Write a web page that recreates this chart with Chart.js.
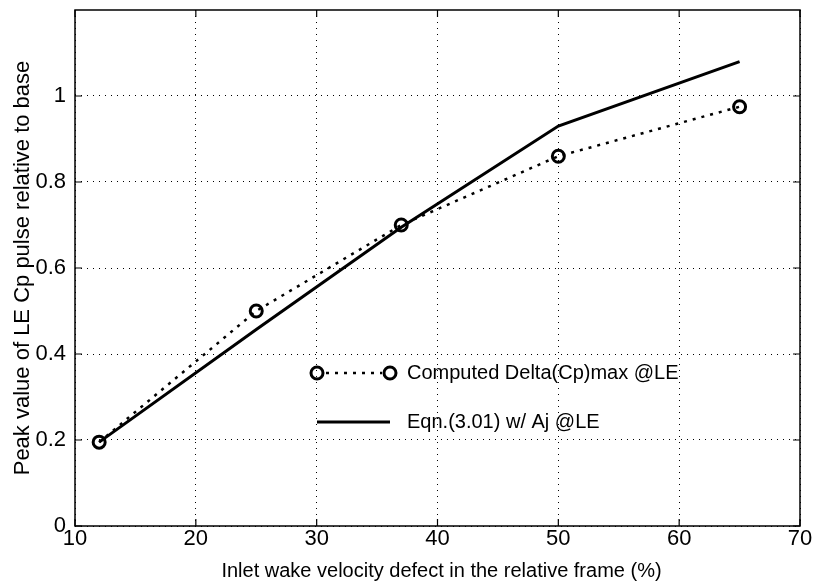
<!DOCTYPE html>
<html>
<head>
<meta charset="utf-8">
<script src="https://cdn.jsdelivr.net/npm/chart.js@4"></script>
<style>
  html, body { margin: 0; padding: 0; background: #fff; }
</style>
</head>
<body>
<canvas id="myChart" width="817" height="583"></canvas>
<script>
// inlet wake velocity defect (%)
const defect = [12, 25, 37, 50, 65];
// peak LE Cp pulse relative to base
const computedPeak = [0.195, 0.5, 0.7, 0.86, 0.975];
const eqnPeak = [0.195, 0.457, 0.695, 0.93, 1.08];
const xTicks = [10, 20, 30, 40, 50, 60, 70];
const yTicks = [0, 0.2, 0.4, 0.6, 0.8, 1];
const legendNames = ["Computed Delta(Cp)max @LE", "Eqn.(3.01) w/ Aj @LE"];
const xTitle = "Inlet wake velocity defect in the relative frame (%)";
const yTitle = "Peak value of LE Cp pulse relative to base";

const FONT = "'Liberation Sans', Arial, Helvetica, sans-serif";

// box round the plot, inward ticks, titles and legend
const framePlugin = {
  id: "frame",
  afterDraw: (chart) => {
    const ctx = chart.ctx;
    const a = chart.chartArea;
    const xs = chart.scales.x;
    const ys = chart.scales.y;
    ctx.save();
    ctx.strokeStyle = "#000";
    ctx.lineWidth = 1.5;
    ctx.strokeRect(a.left, a.top, a.right - a.left, a.bottom - a.top);

    ctx.lineWidth = 1.2;
    ctx.beginPath();
    xTicks.forEach((v) => {
      const px = xs.getPixelForValue(v);
      ctx.moveTo(px, a.bottom);
      ctx.lineTo(px, a.bottom - 7);
      ctx.moveTo(px, a.top);
      ctx.lineTo(px, a.top + 7);
    });
    yTicks.forEach((v) => {
      const py = ys.getPixelForValue(v);
      ctx.moveTo(a.left, py);
      ctx.lineTo(a.left + 7, py);
      ctx.moveTo(a.right, py);
      ctx.lineTo(a.right - 7, py);
    });
    ctx.stroke();

    // axis titles, centred on the plot box
    ctx.fillStyle = "#000";
    ctx.textAlign = "center";
    ctx.textBaseline = "alphabetic";
    ctx.font = "20px " + FONT;
    ctx.fillText(xTitle, (a.left + a.right) / 2 + 4, 577);
    ctx.save();
    ctx.translate(29, (a.top + a.bottom) / 2);
    ctx.rotate(-Math.PI / 2);
    ctx.font = "22px " + FONT;
    ctx.fillText(yTitle, 0, 0);
    ctx.restore();

    // legend
    const y1 = 373;
    const y2 = 422;
    ctx.lineWidth = 3;
    ctx.beginPath();
    ctx.arc(317, y1, 6, 0, Math.PI * 2);
    ctx.stroke();
    ctx.beginPath();
    ctx.arc(390, y1, 6, 0, Math.PI * 2);
    ctx.stroke();
    ctx.setLineDash([3, 6]);
    ctx.lineWidth = 2.5;
    ctx.beginPath();
    ctx.moveTo(326, y1);
    ctx.lineTo(382, y1);
    ctx.stroke();
    ctx.setLineDash([]);
    ctx.lineWidth = 3;
    ctx.beginPath();
    ctx.moveTo(317, y2);
    ctx.lineTo(390, y2);
    ctx.stroke();
    ctx.font = "20px " + FONT;
    ctx.textAlign = "left";
    ctx.textBaseline = "middle";
    ctx.fillText(legendNames[0], 407, y1);
    ctx.fillText(legendNames[1], 407, y2);
    ctx.restore();
  },
};

var ctx = document.getElementById("myChart").getContext("2d");
var myChart = new Chart(ctx, {
  type: "line",
  data: {
    datasets: [
      {
        label: legendNames[0],
        data: defect.map((x, i) => ({ x: x, y: computedPeak[i] })),
        borderColor: "#000",
        borderWidth: 2.5,
        borderDash: [3, 6],
        backgroundColor: "rgba(0,0,0,0)",
        pointRadius: 6,
        pointBorderWidth: 3,
        pointBorderColor: "#000",
        pointBackgroundColor: "rgba(0,0,0,0)",
        tension: 0,
      },
      {
        label: legendNames[1],
        data: defect.map((x, i) => ({ x: x, y: eqnPeak[i] })),
        borderColor: "#000",
        borderWidth: 3,
        pointRadius: 0,
        tension: 0,
      },
    ],
  },
  options: {
    responsive: false,
    animation: false,
    layout: { padding: { top: 10, right: 17, left: 0, bottom: 0 } },
    plugins: {
      legend: { display: false },
      tooltip: { enabled: false },
    },
    scales: {
      x: {
        type: "linear",
        min: 10,
        max: 70,
        afterFit: (scale) => {
          scale.height = 57;
          scale.paddingLeft = 0;
          scale.paddingRight = 0;
        },
        afterBuildTicks: (axis) => { axis.ticks = xTicks.map((v) => ({ value: v })); },
        grid: { color: "#000", lineWidth: 1, drawTicks: false },
        border: { display: false, dash: [1, 5] },
        ticks: { color: "#000", padding: 0, font: { family: FONT, size: 22 }, maxRotation: 0 },
      },
      y: {
        min: 0,
        max: 1.2,
        afterFit: (scale) => {
          scale.width = 75;
          scale.paddingTop = 0;
          scale.paddingBottom = 0;
        },
        afterBuildTicks: (axis) => { axis.ticks = yTicks.map((v) => ({ value: v })); },
        grid: { color: "#000", lineWidth: 1, drawTicks: false },
        border: { display: false, dash: [1, 5] },
        ticks: {
          color: "#000",
          padding: 9,
          font: { family: FONT, size: 22 },
          callback: (v) => String(Math.round(v * 10) / 10),
        },
      },
    },
  },
  plugins: [framePlugin],
});
</script>
</body>
</html>
